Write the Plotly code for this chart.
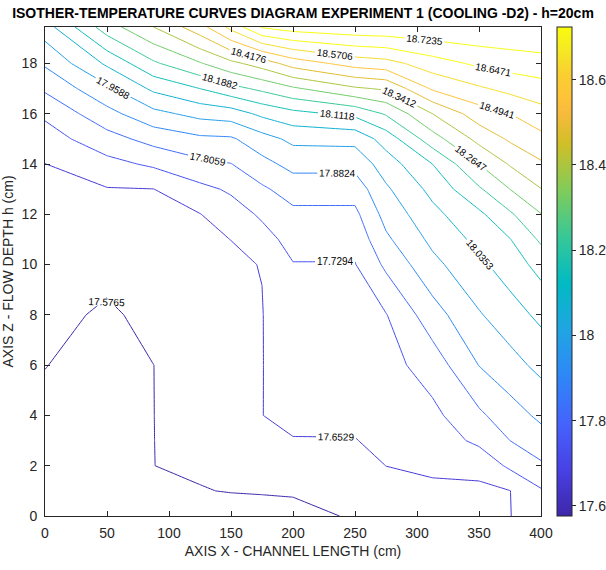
import plotly.graph_objects as go

# ---------------- data ----------------
channel_x = [0, 50, 87.5, 125, 150, 175, 200, 250, 275, 312.5, 350, 375, 400]            # cm
depth_z = [0, 1, 2, 3, 4, 6, 8, 10, 11, 12, 13, 14, 15, 16, 17, 18, 19.45]                  # cm

# temperature (deg C) along each vertical at the given channel position, bottom -> top
temp_x000 = [17.523, 17.532, 17.541, 17.550, 17.560, 17.578, 17.597, 17.615, 17.625, 17.635, 17.644, 17.652, 17.695, 17.743, 17.818, 17.893, 18.001]
temp_x050 = [17.500, 17.509, 17.518, 17.527, 17.535, 17.551, 17.566, 17.597, 17.615, 17.632, 17.649, 17.706, 17.777, 17.857, 17.942, 18.048, 18.230]
temp_x087 = [17.523, 17.550, 17.5762, 17.5762, 17.5762, 17.5762, 17.595, 17.618, 17.630, 17.641, 17.652, 17.742, 17.833, 17.937, 18.051, 18.176, 18.341]
temp_x125 = [17.538, 17.574, 17.584, 17.588, 17.592, 17.603, 17.622, 17.638, 17.6445, 17.651, 17.710, 17.787, 17.867, 17.983, 18.112, 18.258, 18.464]
temp_x150 = [17.546, 17.579, 17.586, 17.593, 17.600, 17.615, 17.631, 17.6453, 17.6533, 17.696, 17.740, 17.804, 17.872, 17.997, 18.163, 18.321, 18.594]
temp_x175 = [17.546, 17.582, 17.606, 17.629, 17.6525, 17.6514, 17.6507, 17.6545, 17.703, 17.740, 17.794, 17.858, 17.929, 18.052, 18.205, 18.375, 18.731]
temp_x200 = [17.554, 17.584, 17.618, 17.6510, 17.6629, 17.6843, 17.7049, 17.7264, 17.7534, 17.788, 17.839, 17.907, 17.977, 18.089, 18.253, 18.451, 18.762]
temp_x250 = [17.584, 17.606, 17.629, 17.6514, 17.6629, 17.6843, 17.7049, 17.7264, 17.7534, 17.788, 17.839, 17.907, 17.982, 18.131, 18.330, 18.525, 18.781]
temp_x275 = [17.611, 17.632, 17.6533, 17.665, 17.677, 17.701, 17.726, 17.821, 17.8685, 17.909, 17.947, 17.997, 18.068, 18.196, 18.351, 18.542, 18.785]
temp_x312 = [17.619, 17.641, 17.664, 17.687, 17.710, 17.765, 17.849, 17.938, 17.977, 18.014, 18.057, 18.112, 18.232, 18.341, 18.504, 18.612, 18.789]
temp_x350 = [17.622, 17.638, 17.676, 17.746, 17.792, 17.884, 17.952, 18.019, 18.056, 18.096, 18.178, 18.265, 18.365, 18.458, 18.560, 18.662, 18.792]
temp_x375 = [17.6512, 17.6518, 17.744, 17.806, 17.849, 17.931, 18.002, 18.072, 18.109, 18.177, 18.265, 18.348, 18.429, 18.494, 18.593, 18.679, 18.796]
temp_x400 = [17.695, 17.722, 17.794, 17.851, 17.898, 17.980, 18.053, 18.139, 18.201, 18.262, 18.339, 18.408, 18.472, 18.542, 18.616, 18.692, 18.800]

level_start = 17.5764706
level_end = 18.7236
level_step = 0.0764706
level_top = 18.7235296

cbar_tickvals = [17.6, 17.8, 18.0, 18.2, 18.4, 18.6]
cbar_ticktext = ["17.6", "17.8", "18", "18.2", "18.4", "18.6"]
x_ticks = [0, 50, 100, 150, 200, 250, 300, 350, 400]
z_ticks = [0, 2, 4, 6, 8, 10, 12, 14, 16, 18]

# MATLAB parula colormap samples
parula = [
    [0.000, "rgb(62,38,168)"], [0.095, "rgb(72,65,229)"], [0.190, "rgb(69,99,253)"],
    [0.286, "rgb(46,135,247)"], [0.381, "rgb(32,165,227)"], [0.476, "rgb(1,186,195)"],
    [0.571, "rgb(55,200,151)"], [0.667, "rgb(129,204,89)"], [0.762, "rgb(209,191,39)"],
    [0.825, "rgb(248,186,61)"], [0.857, "rgb(254,195,56)"], [0.905, "rgb(250,207,48)"],
    [0.952, "rgb(245,233,36)"], [1.000, "rgb(249,251,14)"],
]

columns = [temp_x000, temp_x050, temp_x087, temp_x125, temp_x150, temp_x175, temp_x200,
           temp_x250, temp_x275, temp_x312, temp_x350, temp_x375, temp_x400]
temperature = [[col[j] for col in columns] for j in range(len(depth_z))]

FONT = "Arial, 'Liberation Sans', Helvetica, sans-serif"
AXC = "rgb(38,38,38)"

fig = go.Figure()
fig.add_trace(go.Contour(
    x=channel_x, y=depth_z, z=temperature,
    autocontour=False,
    contours=dict(start=level_start, end=level_end, size=level_step,
                  coloring="lines", showlabels=True,
                  labelfont=dict(size=10, color="black", family=FONT),
                  labelformat=".4f"),
    colorscale=parula, zmin=level_start, zmax=level_top, zauto=False,
    line=dict(width=1, smoothing=0),
    showscale=False, hoverinfo="skip",
))
# colour bar
fig.add_trace(go.Scatter(
    x=[None], y=[None], mode="markers", hoverinfo="skip", showlegend=False,
    marker=dict(color=[level_start], cmin=level_start, cmax=level_top,
                colorscale=parula, showscale=True,
                colorbar=dict(x=1.0323, xanchor="left", xpad=0, y=0.5, yanchor="middle",
                              len=1.0, ypad=0, thickness=15, outlinewidth=1, outlinecolor=AXC,
                              tickvals=cbar_tickvals, ticktext=cbar_ticktext,
                              ticks="outside", ticklen=4, tickcolor=AXC,
                              tickfont=dict(size=14, color=AXC, family=FONT))),
))

fig.update_layout(
    width=606, height=570,
    margin=dict(l=45, r=65, t=27, b=54, autoexpand=False),
    paper_bgcolor="white", plot_bgcolor="white",
    font=dict(family=FONT, color=AXC),
    showlegend=False,
    title=dict(text="<b>ISOTHER-TEMPERATURE CURVES DIAGRAM EXPERIMENT 1 (COOLING -D2) - h=20cm</b>",
               x=0.5, xref="container", xanchor="center", y=1 - 13 / 570, yref="container",
               yanchor="middle", font=dict(size=14, color="black", family=FONT)),
)
fig.update_xaxes(range=[0, 400], tickvals=x_ticks, ticks="inside", ticklen=5, tickcolor=AXC,
                 showline=True, linecolor=AXC, linewidth=1, mirror="ticks", showgrid=False,
                 zeroline=False, tickfont=dict(size=14, color=AXC), ticklabelstandoff=4,
                 title=dict(text="AXIS X - CHANNEL LENGTH (cm)", font=dict(size=14, color=AXC), standoff=6))
fig.update_yaxes(range=[0, 19.45], tickvals=z_ticks, ticks="inside", ticklen=5, tickcolor=AXC,
                 showline=True, linecolor=AXC, linewidth=1, mirror="ticks", showgrid=False,
                 zeroline=False, tickfont=dict(size=14, color=AXC), ticklabelstandoff=4,
                 title=dict(text="AXIS Z - FLOW DEPTH h (cm)", font=dict(size=14, color=AXC), standoff=6))

fig.write_html("out.html")
